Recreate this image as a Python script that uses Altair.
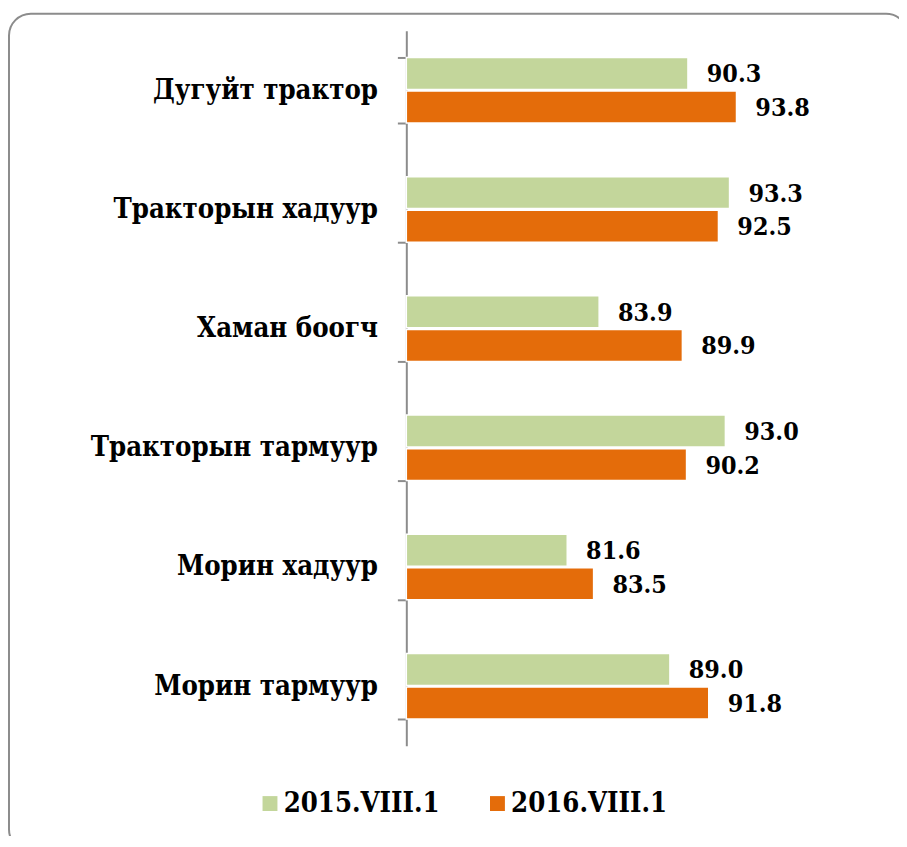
import altair as alt
import pandas as pd

categories = ["Дугуйт трактор", "Тракторын хадуур", "Хаман боогч",
              "Тракторын тармуур", "Морин хадуур", "Морин тармуур"]
series = ["2015.VIII.1", "2016.VIII.1"]
values_2015 = [90.3, 93.3, 83.9, 93.0, 81.6, 89.0]
values_2016 = [93.8, 92.5, 89.9, 90.2, 83.5, 91.8]
colors = ["#C3D69B", "#E46C0A"]
axis_min, axis_max = 70, 100

rows = []
for c, a, b in zip(categories, values_2015, values_2016):
    rows.append({"cat": c, "series": series[0], "v": a})
    rows.append({"cat": c, "series": series[1], "v": b})
df = pd.DataFrame(rows)

FONT = "DejaVu Serif Condensed, DejaVu Serif"

y_enc = alt.Y("cat:N", sort=categories, title=None,
              scale=alt.Scale(paddingInner=0.45, paddingOuter=0.225),
              axis=alt.Axis(tickBand="extent", domainColor="#8c8c8c", domainWidth=2,
                            tickColor="#8c8c8c", tickWidth=2, tickSize=9,
                            labelFont=FONT, labelFontSize=27.5, labelFontWeight="bold",
                            labelColor="black", labelPadding=20, labelLimit=400))
yoff = alt.YOffset("series:N", sort=series, scale=alt.Scale(paddingInner=0.05))
x_enc = alt.X("v:Q", scale=alt.Scale(domain=[axis_min, axis_max], zero=False, nice=False),
              axis=None)

base = alt.Chart(df)

bars = base.mark_bar(stroke="white", strokeWidth=1.5).encode(
    y=y_enc, yOffset=yoff, x=x_enc, x2=alt.datum(axis_min),
    color=alt.Color("series:N", sort=series,
                    scale=alt.Scale(domain=series, range=colors),
                    legend=alt.Legend(title=None, orient="none", direction="horizontal",
                                      legendX=-151, legendY=764,
                                      symbolType="square", symbolSize=225,
                                      symbolStrokeWidth=0, labelFont=FONT,
                                      labelFontSize=27.5, labelFontWeight="bold",
                                      labelColor="black", labelOffset=0,
                                      columnPadding=44, labelLimit=300)))

labels = base.mark_text(align="left", baseline="middle", dx=19, dy=1, font=FONT,
                        fontSize=25, fontWeight="bold", color="black").encode(
    y=alt.Y("cat:N", sort=categories), yOffset=yoff, x=x_enc,
    text=alt.Text("v:Q", format=".1f"))

frame = alt.Chart(alt.Data(values=[{}])).mark_rect(
    fill=None, stroke="#8c8c8c", strokeWidth=2, cornerRadius=22).encode(
    x=alt.value(-400), x2=alt.value(505), y=alt.value(-17), y2=alt.value(826))

chart = alt.layer(frame, bars, labels).properties(
    width=419, height=720,
    padding={"left": 401, "top": 20, "right": 77, "bottom": 88},
    autosize=alt.AutoSizeParams(type="none"),
).configure_view(stroke=None)

chart.save("out.html", embed_options={"renderer": "svg", "actions": False})
